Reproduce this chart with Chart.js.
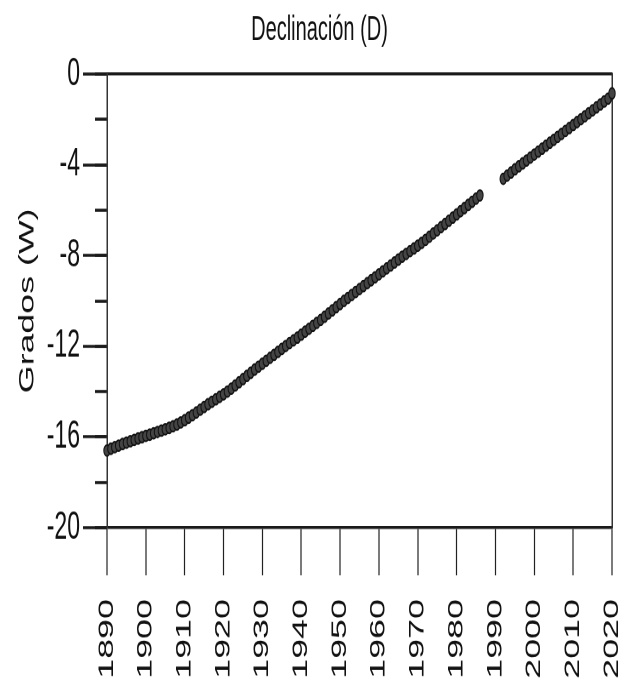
<!DOCTYPE html>
<html>
<head>
<meta charset="utf-8">
<script src="https://cdn.jsdelivr.net/npm/chart.js@4/dist/chart.umd.min.js"></script>
<style>
  html, body { margin: 0; padding: 0; background: #fff; }
  #page { width: 639px; height: 686px; overflow: hidden; }
  /* the original figure is stretched vertically, so the chart is drawn at normal
     proportions and the whole canvas is stretched the same way */
  #wrap { width: 639px; height: 403.5px; transform: scaleY(1.7); transform-origin: 0 0; }
</style>
</head>
<body>
<div id="page"><div id="wrap"><canvas id="declChart"></canvas></div></div>
<script>
const years = [
  1890, 1891, 1892, 1893, 1894, 1895, 1896, 1897, 1898, 1899,
  1900, 1901, 1902, 1903, 1904, 1905, 1906, 1907, 1908, 1909,
  1910, 1911, 1912, 1913, 1914, 1915, 1916, 1917, 1918, 1919,
  1920, 1921, 1922, 1923, 1924, 1925, 1926, 1927, 1928, 1929,
  1930, 1931, 1932, 1933, 1934, 1935, 1936, 1937, 1938, 1939,
  1940, 1941, 1942, 1943, 1944, 1945, 1946, 1947, 1948, 1949,
  1950, 1951, 1952, 1953, 1954, 1955, 1956, 1957, 1958, 1959,
  1960, 1961, 1962, 1963, 1964, 1965, 1966, 1967, 1968, 1969,
  1970, 1971, 1972, 1973, 1974, 1975, 1976, 1977, 1978, 1979,
  1980, 1981, 1982, 1983, 1984, 1985, 1986, 1987, 1988, 1989,
  1990, 1991, 1992, 1993, 1994, 1995, 1996, 1997, 1998, 1999,
  2000, 2001, 2002, 2003, 2004, 2005, 2006, 2007, 2008, 2009,
  2010, 2011, 2012, 2013, 2014, 2015, 2016, 2017, 2018, 2019,
  2020
];

// declination in degrees (negative = west), no data 1987-1991
const declination = [
  -16.60, -16.52, -16.45, -16.38, -16.31, -16.25, -16.19, -16.13, -16.07, -16.01,
  -15.95, -15.90, -15.84, -15.78, -15.72, -15.66, -15.60, -15.53, -15.45, -15.36,
  -15.26, -15.15, -15.04, -14.92, -14.80, -14.68, -14.56, -14.45, -14.34, -14.23,
  -14.12, -14.00, -13.87, -13.73, -13.59, -13.45, -13.31, -13.17, -13.03, -12.90,
  -12.77, -12.64, -12.51, -12.38, -12.25, -12.12, -11.99, -11.86, -11.74, -11.62,
  -11.49, -11.36, -11.23, -11.10, -10.97, -10.84, -10.70, -10.56, -10.42, -10.28,
  -10.14, -10.00, -9.87, -9.74, -9.61, -9.48, -9.35, -9.22, -9.09, -8.96,
  -8.83, -8.70, -8.57, -8.44, -8.31, -8.18, -8.05, -7.93, -7.81, -7.69,
  -7.57, -7.44, -7.31, -7.17, -7.03, -6.89, -6.75, -6.61, -6.47, -6.33,
  -6.19, -6.05, -5.91, -5.77, -5.63, -5.49, -5.35, null, null, null,
  null, null, -4.62, -4.48, -4.34, -4.20, -4.07, -3.94, -3.81, -3.68,
  -3.55, -3.42, -3.29, -3.16, -3.03, -2.90, -2.77, -2.64, -2.51, -2.38,
  -2.25, -2.12, -1.99, -1.86, -1.73, -1.60, -1.47, -1.34, -1.21, -1.08,
  -0.85
];

const FONT = "'Liberation Sans', Arial, sans-serif";

const points = years
  .map((yr, i) => ({ x: yr, y: declination[i] }))
  .filter(p => p.y !== null);

const ctx = document.getElementById('declChart').getContext('2d');
new Chart(ctx, {
  type: 'scatter',
  data: {
    datasets: [{
      data: points,
      pointRadius: 3.2,
      pointBackgroundColor: '#444',
      pointBorderColor: '#111',
      pointBorderWidth: 1,
      clip: false
    }]
  },
  options: {
    responsive: true,
    maintainAspectRatio: false,
    animation: false,
    devicePixelRatio: 2,
    events: [],
    layout: { padding: 0 },
    plugins: {
      legend: { display: false },
      tooltip: { enabled: false },
      title: {
        display: true,
        text: 'Declinación (D)',
        color: '#111',
        font: { family: FONT, size: 20, weight: 'normal' },
        padding: { top: 6, bottom: 13.5 }
      }
    },
    scales: {
      x: {
        type: 'linear',
        position: 'bottom',
        min: 1890,
        max: 2020,
        afterFit: s => {
          s.height = 93.5;
          // rotated labels would otherwise push the plot in from the right
          s.paddingLeft = 0;
          s.paddingRight = 0;
        },
        grid: { drawOnChartArea: false, tickLength: 28, tickWidth: 1.2, tickColor: '#222' },
        border: { color: '#1a1a1a', width: 1.8 },
        ticks: {
          stepSize: 10,
          autoSkip: false,
          minRotation: 90,
          maxRotation: 90,
          padding: 14,
          color: '#111',
          font: { family: FONT, size: 21 },
          callback: v => String(v)
        }
      },
      xTop: {
        axis: 'x',
        type: 'linear',
        position: 'top',
        min: 1890,
        max: 2020,
        afterFit: s => { s.height = 0; },
        grid: { drawOnChartArea: false, drawTicks: false },
        border: { color: '#1a1a1a', width: 1.8 },
        ticks: { display: false }
      },
      y: {
        type: 'linear',
        position: 'left',
        min: -20,
        max: 0,
        afterFit: s => { s.width = 107; },
        title: {
          display: true,
          text: 'Grados (W)',
          color: '#111',
          font: { family: FONT, size: 21 },
          padding: { top: 15, bottom: 0 }
        },
        grid: { drawOnChartArea: false, tickLength: 24, tickWidth: 1.8, tickColor: '#1a1a1a' },
        border: { color: '#333', width: 1.5 },
        ticks: {
          stepSize: 4,
          padding: 3,
          color: '#111',
          font: { family: FONT, size: 23 },
          callback: v => String(v)
        }
      },
      yMinor: {
        axis: 'y',
        type: 'linear',
        position: { x: 1890 },
        min: -20,
        max: 0,
        afterFit: s => { s.width = 0; },
        grid: { drawOnChartArea: false, tickLength: 12, tickWidth: 1.8, tickColor: '#1a1a1a' },
        border: { display: false },
        ticks: { stepSize: 2, display: false }
      },
      yRight: {
        axis: 'y',
        type: 'linear',
        position: 'right',
        min: -20,
        max: 0,
        afterFit: s => { s.width = 27; },
        grid: { drawOnChartArea: false, drawTicks: false },
        border: { color: '#333', width: 1.5 },
        ticks: { display: false }
      }
    }
  }
});
</script>
</body>
</html>
